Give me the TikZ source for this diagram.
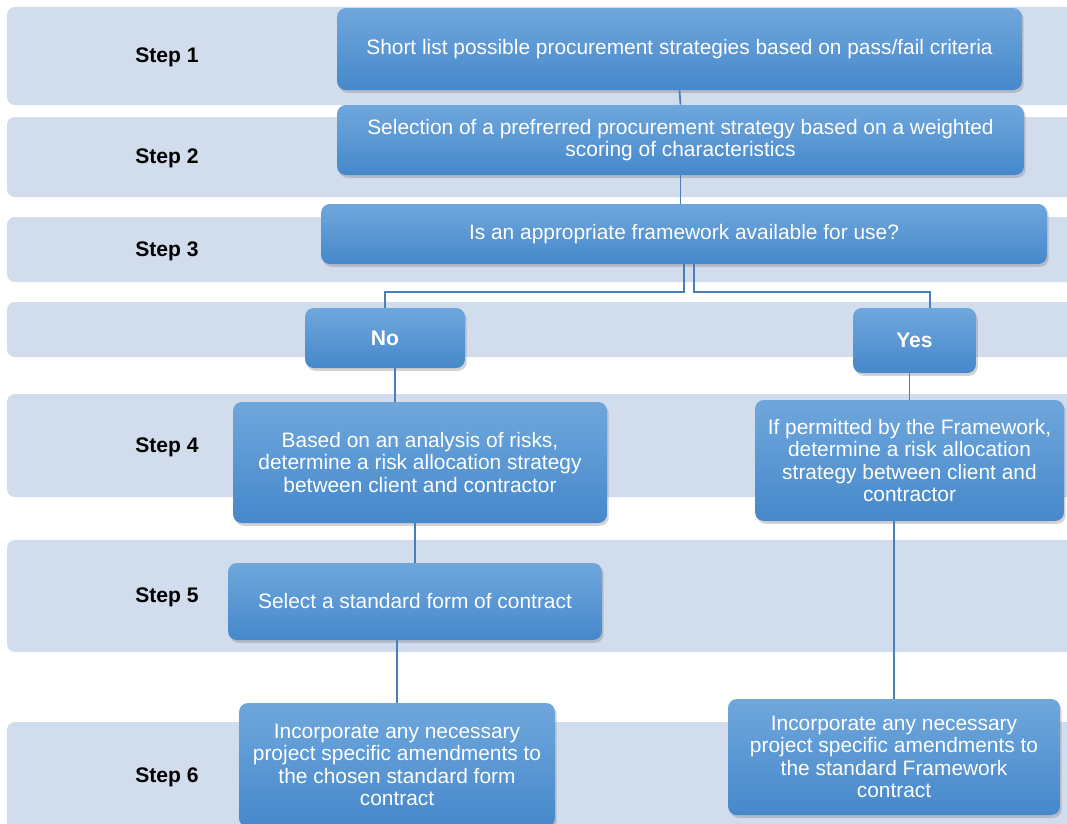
\documentclass[tikz,border=0pt]{standalone}
\usepackage{fontspec}
\setmainfont{Liberation Sans}
\usepackage{tikz}
\usetikzlibrary{positioning,shadows}
\definecolor{bandfill}{HTML}{D1DCEC}
\definecolor{boxtop}{HTML}{6FA7DC}
\definecolor{boxbot}{HTML}{4688CB}
\definecolor{linkcol}{HTML}{4A7EBB}
\tikzset{
  stepband/.style={fill=bandfill, rounded corners=4.5pt},
  steplabel/.style={font=\fontsize{12}{14}\selectfont\bfseries},
  procbox/.style={rounded corners=5pt, top color=boxtop, bottom color=boxbot, text=white, align=center, inner sep=2pt, font=\fontsize{11.9}{12.7}\selectfont, drop shadow={shadow xshift=1pt, shadow yshift=-1.6pt, opacity=0.35}},
  choicebox/.style={procbox, font=\fontsize{12}{14}\selectfont\bfseries},
  link/.style={draw=linkcol, line width=1pt}
}

\begin{document}
\begin{tikzpicture}[x=0.02cm,y=-0.02cm]
\useasboundingbox (0,0) rectangle (1067,823);
\clip (0,0) rectangle (1067,823);
% step bands
\foreach \top/\bot/\lab [count=\n] in {7/105/Step 1, 117/197/Step 2, 217/282/Step 3, 302/357/, 394/497/Step 4, 540/652/Step 5, 722/830/Step 6}{
  \fill[stepband] (7,\top) rectangle (1090,\bot);
  \node[steplabel] (step\n) at (167,{(\top+\bot)/2+1.5}) {\lab};
}
% process boxes
\node[procbox, minimum width=13.7cm, minimum height=1.64cm] (shortlist) at (679.5,49) {Short list possible procurement strategies based on pass/fail criteria};
\node[procbox, minimum width=13.74cm, minimum height=1.4cm] (preferred) at (680.5,140) {Selection of a prefrerred procurement strategy based on a weighted\\ scoring of characteristics};
\node[procbox, minimum width=14.52cm, minimum height=1.2cm] (framework) at (684,234) {Is an appropriate framework available for use?};
\node[choicebox, minimum width=3.2cm, minimum height=1.2cm] (no) at (385,338) {No};
\node[choicebox, minimum width=2.46cm, minimum height=1.3cm] (yes) at (914.5,340.5) {Yes};
\node[procbox, minimum width=7.48cm, minimum height=2.42cm] (riskno) at (420,462.5) {Based on an analysis of risks,\\ determine a risk allocation strategy\\ between client and contractor};
\node[procbox, minimum width=6.18cm, minimum height=2.42cm] (riskyes) at (909.5,460.5) {If permitted by the Framework,\\ determine a risk allocation\\ strategy between client and\\ contractor};
\node[procbox, minimum width=7.48cm, minimum height=1.54cm] (standard) at (415,601.5) {Select a standard form of contract};
\node[procbox, minimum width=6.32cm, minimum height=2.48cm] (amendno) at (397,765) {Incorporate any necessary\\ project specific amendments to\\ the chosen standard form\\ contract};
\node[procbox, minimum width=6.64cm, minimum height=2.32cm] (amendyes) at (894,757) {Incorporate any necessary\\ project specific amendments to\\ the standard Framework\\ contract};
% connectors
\draw[link] (shortlist.south) -- (preferred.north);
\draw[link] (preferred.south) -- (preferred.south |- framework.north);
\draw[link] (framework.south) -- ++(0,28) -| (no.north);
\draw[link] ([xshift=0.2cm]framework.south) -- ++(0,28) -| ([xshift=0.31cm]yes.north);
\draw[link] ([xshift=0.2cm]no.south) -- ([xshift=0.2cm]no.south |- riskno.north);
\draw[link] (riskyes.north) -- (riskyes.north |- yes.south);
\draw[link] (standard.north) -- (standard.north |- riskno.south);
\draw[link] (amendno.north) -- (amendno.north |- standard.south);
\draw[link] (amendyes.north) -- (amendyes.north |- riskyes.south);
\end{tikzpicture}
\end{document}
